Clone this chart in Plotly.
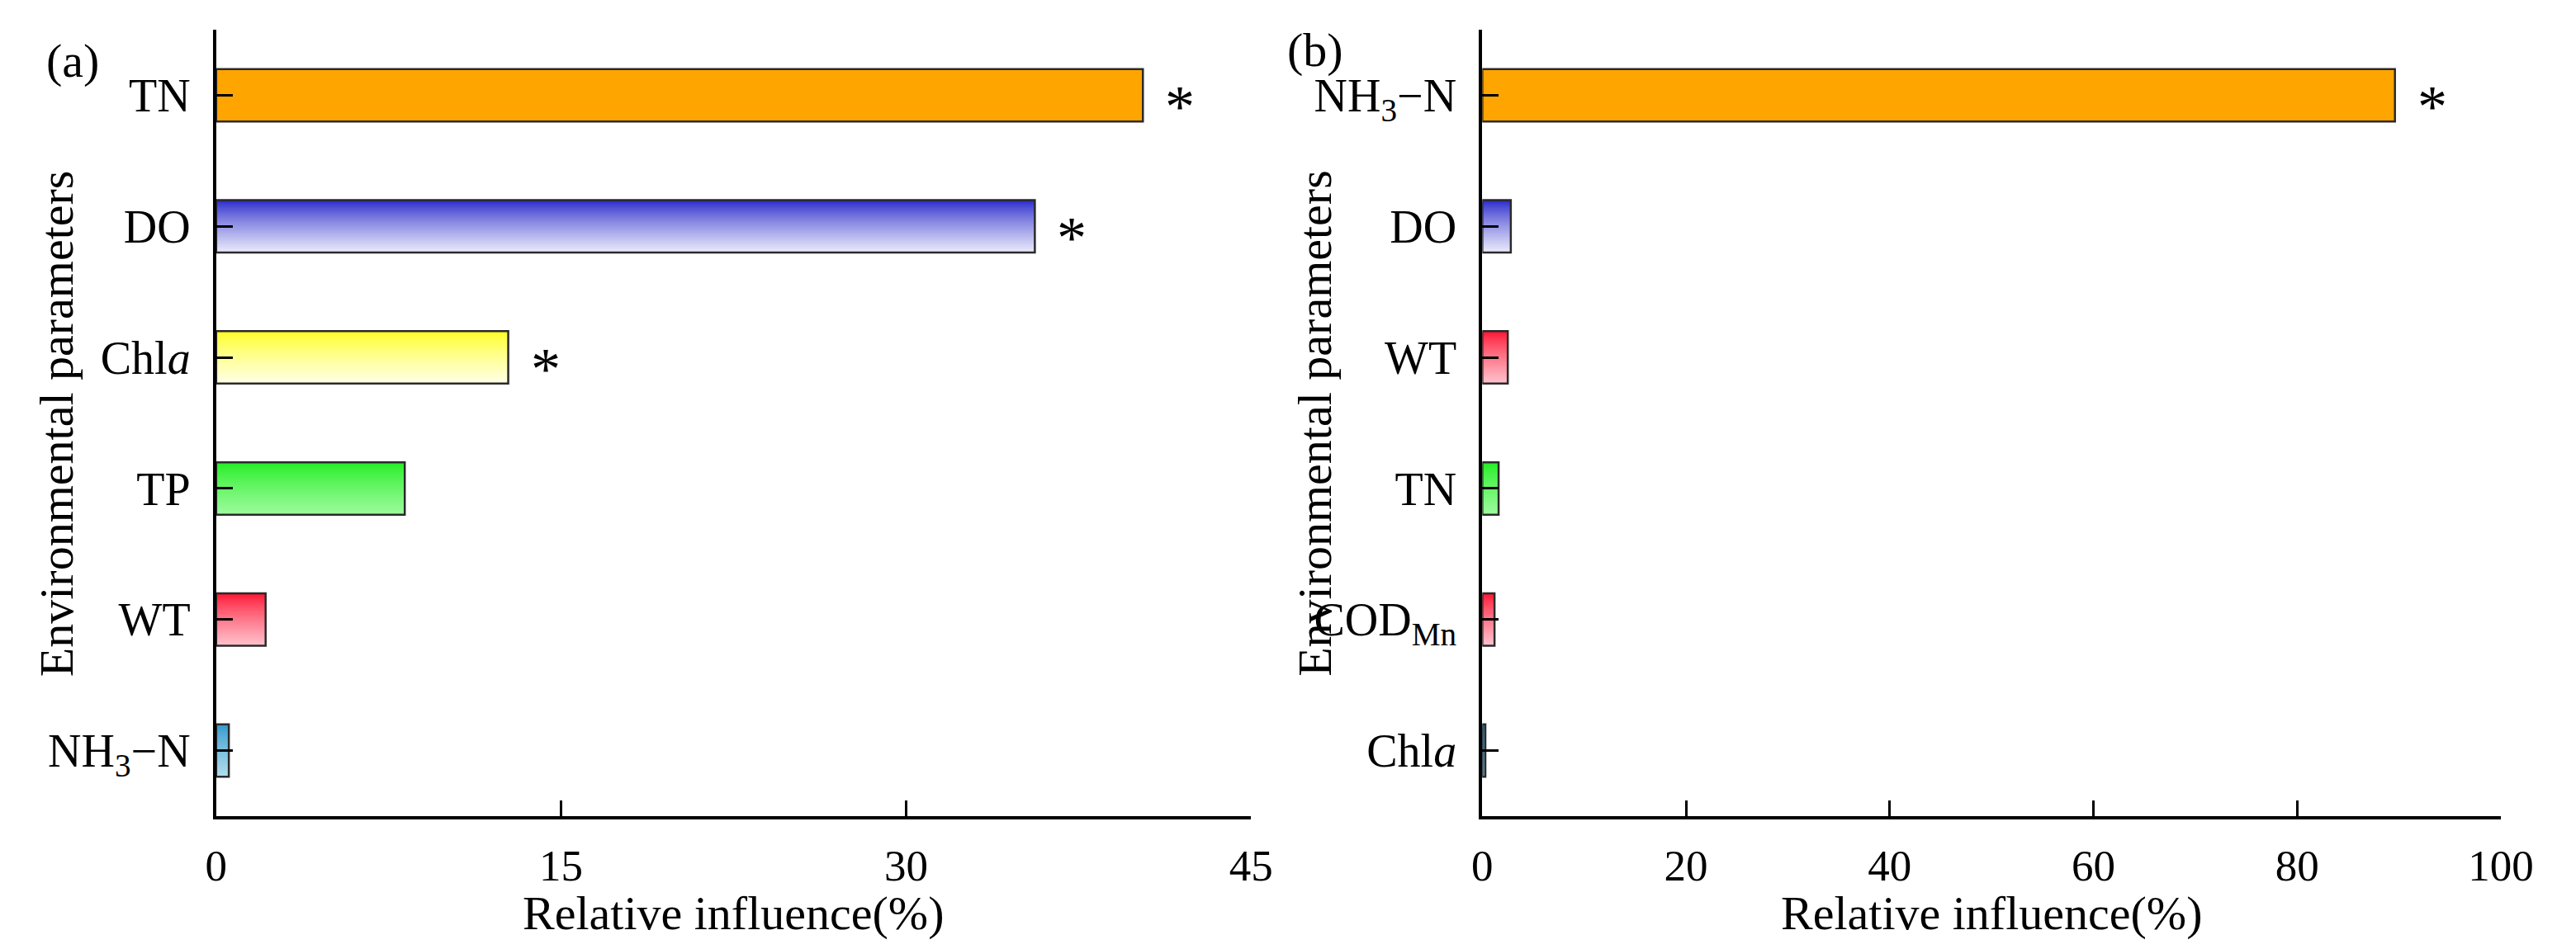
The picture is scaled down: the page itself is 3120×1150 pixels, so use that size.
import plotly.graph_objects as go

#______________ Data ______________

# categories listed bottom -> top
left_params = ["NH<sub>3</sub>−N", "WT", "TP", "Chl<i>a</i>", "DO", "TN"]
left_values = [0.55, 2.15, 8.2, 12.7, 35.6, 40.3]
left_signif = [False, False, False, True, True, True]

right_params = ["Chl<i>a</i>", "COD<sub>Mn</sub>", "TN", "WT", "DO", "NH<sub>3</sub>−N"]
right_values = [0.3, 1.2, 1.6, 2.5, 2.8, 89.6]
right_signif = [False, False, False, False, False, True]

left_ticks = [0, 15, 30, 45]
right_ticks = [0, 20, 40, 60, 80, 100]

#______________ Style ______________

ORANGE = ("#FFA500", "#FFA500")
BLUE = ("#2A2ACC", "#E8E8FA")
YELLOW = ("#FFFF22", "#FFFFE6")
GREEN = ("#22EE22", "#9CFB9C")
RED = ("#FF1533", "#FFC0CB")
TEAL = ("#3399CC", "#B0DCEC")
TEAL_DARK = ("#2F7FA8", "#7DB8D4")

left_colors = [TEAL, RED, GREEN, YELLOW, BLUE, ORANGE]
right_colors = [TEAL_DARK, RED, GREEN, RED, BLUE, ORANGE]

FONT = "Liberation Serif"
FS_TICK = 53
FS_CAT = 56
FS_TITLE = 58
W, H = 3120, 1150
BAR_W = 0.4
N_STRIPS = 32


def hex_rgb(h):
    h = h.lstrip("#")
    return tuple(int(h[i:i + 2], 16) for i in (0, 2, 4))


def mix(c1, c2, t):
    a, b = hex_rgb(c1), hex_rgb(c2)
    return "rgb(%d,%d,%d)" % tuple(round(a[i] + (b[i] - a[i]) * t) for i in range(3))


def gradient_bars(fig, params, values, colors, xa, ya):
    # vertical gradient: stack of bars, each one covering from its top edge down to the bar bottom
    h = BAR_W / N_STRIPS
    for k in range(N_STRIPS):
        t = (k / (N_STRIPS - 1)) ** 0.8
        fig.add_trace(go.Bar(
            x=values, y=params, orientation="h",
            width=BAR_W - k * h, offset=-BAR_W / 2,
            marker=dict(color=[mix(c[0], c[1], t) for c in colors], line=dict(width=0)),
            xaxis=xa, yaxis=ya, showlegend=False, hoverinfo="skip",
        ))
    # outline
    fig.add_trace(go.Bar(
        x=values, y=params, orientation="h",
        width=BAR_W, offset=-BAR_W / 2,
        marker=dict(color="rgba(0,0,0,0)", line=dict(color="#2a2a2a", width=2.5)),
        xaxis=xa, yaxis=ya, showlegend=False,
    ))


fig = go.Figure()
gradient_bars(fig, left_params, left_values, left_colors, "x", "y")
gradient_bars(fig, right_params, right_values, right_colors, "x2", "y2")

# significance stars
annots = []
for params, values, signif, xr, yr in [
    (left_params, left_values, left_signif, "x", "y"),
    (right_params, right_values, right_signif, "x2", "y2"),
]:
    for p, v, s in zip(params, values, signif):
        if s:
            annots.append(dict(x=v, y=p, xref=xr, yref=yr, text="*", showarrow=False,
                               xshift=45, yshift=-14, xanchor="center", yanchor="middle",
                               font=dict(family=FONT, size=72, color="black")))

# titles and panel labels
def paper_txt(text, px, py, angle=0):
    return dict(x=px / W, y=1 - py / H, xref="paper", yref="paper", text=text,
                showarrow=False, textangle=angle, xanchor="center", yanchor="middle",
                font=dict(family=FONT, size=FS_TITLE, color="black"))

annots += [
    paper_txt("(a)", 68, 65),
    paper_txt("(b)", 1599, 53),
    paper_txt("Environmental parameters", 48, 505, -90),
    paper_txt("Environmental parameters", 1598, 505, -90),
    paper_txt("Relative influence(%)", 882, 1098),
    paper_txt("Relative influence(%)", 2432, 1098),
]

x_common = dict(showline=True, linewidth=4, linecolor="black", ticks="inside", ticklen=19,
                tickwidth=3, tickcolor="black", showgrid=False, zeroline=False,
                tickfont=dict(family=FONT, size=FS_TICK, color="black"), ticklabelstandoff=10)
y_common = dict(type="category", range=[-0.5, 5.5], showline=True, linewidth=4, linecolor="black",
                ticks="inside", ticklen=20, tickwidth=3, tickcolor="black", showgrid=False,
                zeroline=False, tickfont=dict(family=FONT, size=FS_CAT, color="black"),
                ticklabelstandoff=16)

y_dom = [(H - 981) / H, (H - 28) / H]

fig.update_layout(
    width=W, height=H, autosize=False,
    margin=dict(l=0, r=0, t=0, b=0),
    paper_bgcolor="white", plot_bgcolor="white",
    barmode="overlay", showlegend=False,
    xaxis=dict(domain=[245 / W, 1520 / W], anchor="y", range=[0, 45], tickvals=left_ticks, **x_common),
    yaxis=dict(domain=y_dom, anchor="x", **y_common),
    xaxis2=dict(domain=[1805 / W, 3060 / W], anchor="y2", range=[0, 100], tickvals=right_ticks, **x_common),
    yaxis2=dict(domain=y_dom, anchor="x2", **y_common),
    annotations=annots,
)

fig.write_html("out.html")
